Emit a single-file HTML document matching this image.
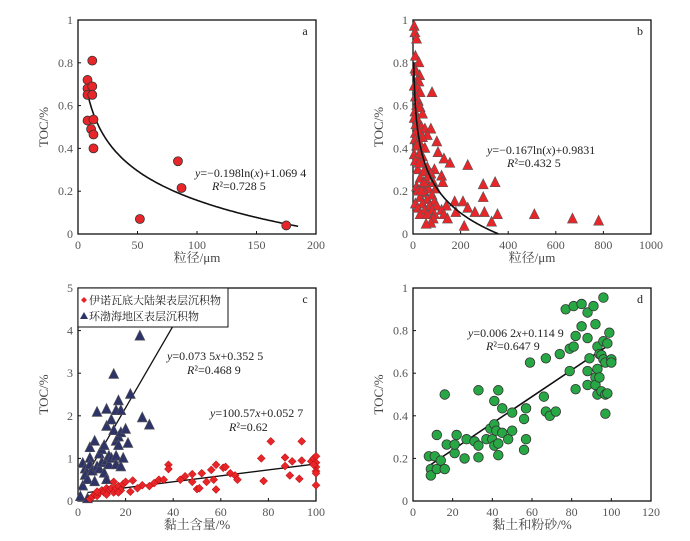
<!DOCTYPE html>
<html><head><meta charset="utf-8"><style>
body{margin:0;background:#fff}
svg text{font-family:"Liberation Serif","Noto Serif CJK SC","Noto Sans CJK SC",serif;}
</style></head><body>
<svg id="chart" width="690" height="536" viewBox="0 0 690 536" xmlns="http://www.w3.org/2000/svg"></svg>
<script>
// Panel a data
const aX=[8,8,8,8,12,12,12,13,11,13,13,52,84,87,175];
const aY=[0.72,0.68,0.65,0.53,0.81,0.69,0.65,0.535,0.49,0.465,0.40,0.07,0.34,0.215,0.04];
const aFit=[-0.198,1.0694];
// Panel b data
const bX=[5,8,15,10,25,8,12,28,20,25,5,18,30,80,10,22,15,30,8,40,5,20,12,35,50,75,25,10,60,40,8,20,100,30,15,50,105,5,25,40,130,10,35,155,230,60,90,20,45,75,120,30,55,85,125,295,345,15,40,65,95,20,50,80,30,295,60,90,175,210,10,40,70,100,140,230,20,50,80,120,180,260,300,30,60,90,130,355,510,670,780,85,145,75,55,215,330,25,45,35,65];
const bY=[0.97,0.94,0.91,0.83,0.80,0.77,0.76,0.74,0.72,0.71,0.69,0.68,0.66,0.66,0.64,0.62,0.60,0.59,0.57,0.56,0.54,0.53,0.51,0.50,0.49,0.49,0.48,0.47,0.46,0.45,0.44,0.43,0.43,0.42,0.41,0.40,0.38,0.37,0.37,0.36,0.35,0.34,0.33,0.33,0.32,0.31,0.30,0.30,0.29,0.28,0.27,0.26,0.25,0.24,0.24,0.23,0.24,0.22,0.22,0.21,0.21,0.20,0.19,0.18,0.17,0.17,0.16,0.15,0.15,0.15,0.14,0.14,0.13,0.13,0.13,0.12,0.12,0.11,0.11,0.11,0.10,0.10,0.10,0.09,0.09,0.09,0.09,0.09,0.09,0.07,0.06,0.07,0.07,0.05,0.045,0.035,0.055,0.33,0.24,0.20,0.27];
const bFit=[-0.167,0.9831];
// Panel c data
const cRedX=[5,6,7,8,9,10,11,12,13,14,15,15,16,17,18,19,20,22,23,27,32,34,36,38,38,43,45,48,48,50,51,52,54,56,57,58,58,61,62,64,66,67,77,78,81,87,87,89,90,93,94,94,98,99,100,100,100,100,100,100,99,25,30,12,8,17];
const cRedY=[0.05,0.1,0.15,0.12,0.2,0.25,0.2,0.3,0.25,0.3,0.45,0.2,0.3,0.35,0.25,0.4,0.45,0.22,0.48,0.37,0.42,0.5,0.5,0.85,0.75,0.5,0.58,0.45,0.63,0.28,0.3,0.65,0.45,0.73,0.5,0.85,0.27,0.78,0.8,0.65,0.6,0.5,1.0,0.47,1.4,1.02,0.82,0.6,0.93,0.52,1.4,0.95,0.93,1.0,1.05,0.9,0.8,0.7,0.65,0.37,0.85,0.3,0.35,0.15,0.22,0.2];
const cBlueX=[1,2,2,3,3,4,4,5,5,5,6,7,7,8,8,9,9,10,10,11,11,12,12,12,12,13,13,14,14,15,15,16,16,16,16,17,17,17,18,18,18,19,20,21,22,26,27,30];
const cBlueY=[0.1,0.35,0.88,0.75,0.6,0.05,0.5,1.25,1.0,0.85,0.7,1.4,0.45,2.08,0.8,1.1,0.75,1.2,0.9,1.3,0.65,2.15,1.75,0.95,0.5,1.05,0.85,1.9,1.0,2.97,1.65,2.12,1.4,1.05,0.85,2.35,1.5,1.3,2.12,1.6,0.8,1.0,1.68,1.35,2.5,3.87,1.95,1.78];
const cRedLineX=[4,100], cRedLineY=[0.2,0.87];
const cBlueLineX=[3,44], cBlueLineY=[0.55,4.5];
// Panel d data
const dX=[8,9,9,11,12,12,14,16,16,17,21,21,22,26,27,31,33,33,33,37,39,40,41,41,41,42,43,43,43,45,45,48,50,50,56,56,57,57,59,66,67,67,69,72,74,77,79,79,81,81,82,82,85,85,88,88,88,88,89,91,92,92,92,93,93,93,94,94,95,95,96,96,96,97,97,97,98,98,99,100,100];
const dY=[0.21,0.15,0.12,0.21,0.31,0.15,0.19,0.5,0.15,0.265,0.225,0.265,0.31,0.2,0.29,0.28,0.26,0.52,0.205,0.29,0.34,0.29,0.47,0.36,0.26,0.33,0.52,0.27,0.215,0.435,0.32,0.29,0.415,0.33,0.385,0.24,0.435,0.29,0.65,0.49,0.42,0.67,0.4,0.42,0.69,0.9,0.715,0.61,0.915,0.725,0.775,0.525,0.925,0.82,0.885,0.765,0.61,0.545,0.67,0.915,0.83,0.58,0.545,0.725,0.62,0.5,0.58,0.69,0.515,0.685,0.955,0.75,0.665,0.5,0.65,0.41,0.74,0.505,0.79,0.665,0.65];
const dLineX=[8,100], dLineY=[0.165,0.74];
const aTicksX=[0,50,100,150,200], aTicksY=[0,0.2,0.4,0.6,0.8,1];
const bTicksX=[0,200,400,600,800,1000];
const cTicksX=[0,20,40,60,80,100], cTicksY=[0,1,2,3,4,5];
const dTicksX=[0,20,40,60,80,100,120];

const svg=document.getElementById('chart');
const NS='http://www.w3.org/2000/svg';
function mk(tag,attrs,parent){const e=document.createElementNS(NS,tag);for(const k in attrs)e.setAttribute(k,attrs[k]);(parent||svg).appendChild(e);return e;}
function txt(s,x,y,attrs,parent){const e=mk('text',Object.assign({x:x,y:y,'font-size':12,fill:'#333'},attrs||{}),parent);e.textContent=s;return e;}

function panel(name,L,R,T,B,xmax,ymax,xt,yt,xtitle,letter){
  const g=mk('g',{});
  
  
  const sx=v=>L+(R-L)*v/xmax, sy=v=>B-(B-T)*v/ymax;
  const fr=mk('rect',{x:L,y:T,width:R-L,height:B-T,fill:'none',stroke:'#111','stroke-width':1.3},g);
  
  
  xt.forEach(v=>{mk('line',{x1:sx(v),x2:sx(v),y1:B,y2:B-3,stroke:'#111'},g);
    const t=txt(String(v),sx(v),B+15,{'text-anchor':'middle',fill:'#555'},g);
    });
  yt.forEach(v=>{mk('line',{x1:L,x2:L+3,y1:sy(v),y2:sy(v),stroke:'#111'},g);
    const t=txt(String(v),L-5,sy(v)+4,{'text-anchor':'end',fill:'#555'},g);
    });
  const xtl=txt(xtitle,(L+R)/2,B+28,{'text-anchor':'middle','font-size':13,fill:'#444'},g);
  
  const yc=(T+B)/2, yx=L-30;
  const ytl=txt('TOC/%',yx,yc,{'text-anchor':'middle','font-size':13,fill:'#444',transform:`rotate(-90 ${yx} ${yc})`},g);
  
  const lt=txt(letter,R-11,T+15,{'text-anchor':'middle','font-size':12,fill:'#222'},g);
  
  return {g,sx,sy};
}
function circles(p,X,Y,fill,r,nm){X.forEach((x,i)=>{const c=mk('circle',{cx:p.sx(x),cy:p.sy(Y[i]),r:r,fill:fill,stroke:'#333','stroke-width':0.8},p.g);
  });}
function tris(p,X,Y,fill,s,nm){X.forEach((x,i)=>{const cx=p.sx(x),cy=p.sy(Y[i]);
  const t=mk('polygon',{points:`${cx},${cy-s*0.6} ${cx-s/2},${cy+s*0.4} ${cx+s/2},${cy+s*0.4}`,fill:fill,stroke:'#555','stroke-width':0.6},p.g);
  });}
function diamonds(p,X,Y,fill,s,nm){X.forEach((x,i)=>{const cx=p.sx(x),cy=p.sy(Y[i]);
  const t=mk('polygon',{points:`${cx},${cy-s} ${cx+s},${cy} ${cx},${cy+s} ${cx-s},${cy}`,fill:fill,stroke:'#a00','stroke-width':0.5},p.g);
  });}
function logCurve(p,fit,x0,x1,nm){let d='';for(let i=0;i<=200;i++){const x=x0+(x1-x0)*i/200;const y=fit[0]*Math.log(x)+fit[1];if(y<0)break;d+=(i?'L':'M')+p.sx(x).toFixed(1)+','+p.sy(y).toFixed(1);}
  const e=mk('path',{d:d,fill:'none',stroke:'#111','stroke-width':1.6},p.g);}
function line(p,X,Y,nm,w){const e=mk('line',{x1:p.sx(X[0]),y1:p.sy(Y[0]),x2:p.sx(X[1]),y2:p.sy(Y[1]),stroke:'#111','stroke-width':w||1.3},p.g);}
function eq(p,a,b,x1,y1,x2,y2,nm){const t=mk('text',{x:x1,y:y1,'font-size':12,fill:'#222'},p.g);t.innerHTML=a;
  const r=mk('text',{x:x2,y:y2,'font-size':12,fill:'#222'},p.g);r.innerHTML=b;}

// a
const pa=panel('panel-a',78,316,20,234,200,1,aTicksX,aTicksY,'粒径/μm','a');
logCurve(pa,aFit,8,185,'fit-curve-a');
circles(pa,aX,aY,'#e8262a',4.5,'point-a');
eq(pa,'<tspan font-style="italic">y</tspan>=−0.198ln(<tspan font-style="italic">x</tspan>)+1.069 4','<tspan font-style="italic">R</tspan>²=0.728 5',195,177,212,190,'equation-a');
// b
const pb=panel('panel-b',413,651,20,234,1000,1,bTicksX,aTicksY,'粒径/μm','b');
tris(pb,bX,bY,'#e8262a',10,'point-b');
logCurve(pb,bFit,3,400,'fit-curve-b');
eq(pb,'<tspan font-style="italic">y</tspan>=−0.167ln(<tspan font-style="italic">x</tspan>)+0.9831','<tspan font-style="italic">R</tspan>²=0.432 5',487,154,507,167,'equation-b');
// c
const pc=panel('panel-c',78,316,288,501,100,5,cTicksX,cTicksY,'黏土含量/%','c');
line(pc,cBlueLineX,cBlueLineY,'fit-line-bohai');
line(pc,cRedLineX,cRedLineY,'fit-line-innoko');
tris(pc,cBlueX,cBlueY,'#2e3468',10,'point-bohai');
diamonds(pc,cRedX,cRedY,'#e8262a',4,'point-innoko');
eq(pc,'<tspan font-style="italic">y</tspan>=0.073 5<tspan font-style="italic">x</tspan>+0.352 5','<tspan font-style="italic">R</tspan>²=0.468 9',167,360,187,374,'equation-bohai');
eq(pc,'<tspan font-style="italic">y</tspan>=100.57<tspan font-style="italic">x</tspan>+0.052 7','<tspan font-style="italic">R</tspan>²=0.62',210,417,229,431,'equation-innoko');
// legend
const lg=mk('g',{},pc.g);

mk('rect',{x:78,y:288,width:150,height:39,fill:'#fff',stroke:'#111','stroke-width':1},lg);
const l1=mk('g',{},lg);
mk('polygon',{points:'84,297 87,300 84,303 81,300',fill:'#e8262a'},l1);
txt('伊诺瓦底大陆架表层沉积物',89,304,{'font-size':11,fill:'#222'},l1);
const l2=mk('g',{},lg);
mk('polygon',{points:'84,312 80,319 88,319',fill:'#2e3468'},l2);
txt('环渤海地区表层沉积物',89,320,{'font-size':11,fill:'#222'},l2);
// d
const pd=panel('panel-d',413,651,288,501,120,1,dTicksX,aTicksY,'黏土和粉砂/%','d');
line(pd,dLineX,dLineY,'fit-line-d',1.6);
circles(pd,dX,dY,'#27a845',4.8,'point-d');
eq(pd,'<tspan font-style="italic">y</tspan>=0.006 2<tspan font-style="italic">x</tspan>+0.114 9','<tspan font-style="italic">R</tspan>²=0.647 9',468,337,486,350,'equation-d');
</script>
</body></html>
